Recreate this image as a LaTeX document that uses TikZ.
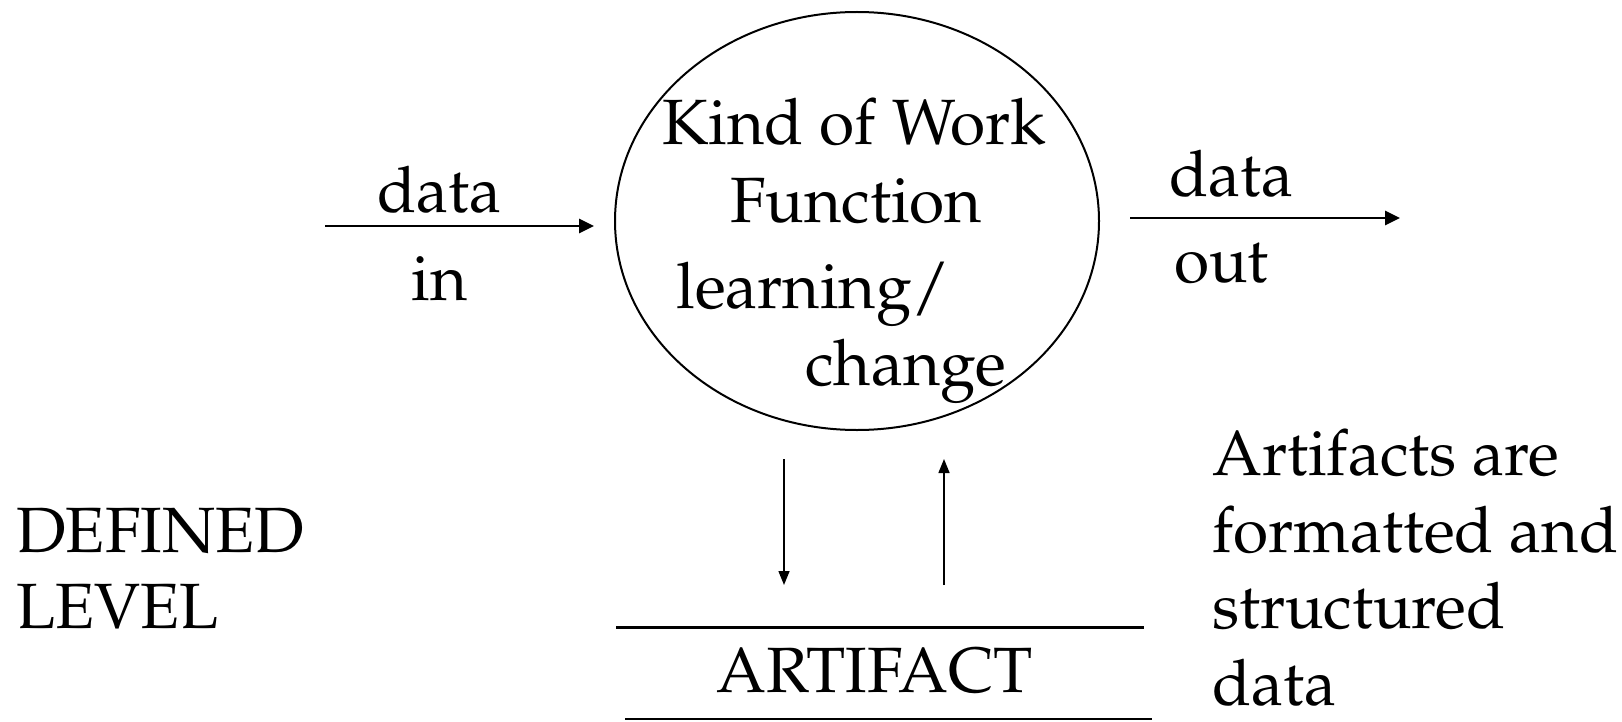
\documentclass[tikz,border=0pt]{standalone}
\usepackage[T1]{fontenc}
\renewcommand{\rmdefault}{ppl}
\usetikzlibrary{arrows.meta,shapes.geometric}
\begin{document}
\begin{tikzpicture}[x=0.5pt,y=-0.5pt,
  lbl/.style={anchor=base west,inner sep=0pt,font=\fontsize{32}{38}\selectfont},
  flow/.style={line width=1.35pt,-{Triangle[length=7.5pt,width=7pt]}},
  vflow/.style={line width=0.75pt,-{Triangle[length=7pt,width=5.5pt]}}]
\useasboundingbox (0,0) rectangle (1622,722);
% process
\node (proc) [draw,line width=1pt,ellipse,minimum width=242pt,minimum height=209pt,inner sep=0pt] at (857,221) {};
\node (t1) [lbl] at (662,145) {Kind of Work};
\node (t2) [lbl] at (730,222) {Function};
\node (t3) [lbl] at (676,308) {learning/};
\node (t4) [lbl] at (805,385) {change};
% data in
\coordinate (inA) at (325,226);
\coordinate (inB) at (594,226);
\draw[flow] (inA) -- (inB);
\node (din1) [lbl] at (377,213) {data};
\node (din2) [lbl] at (411,300) {in};
% data out
\coordinate (outA) at (1130,218);
\coordinate (outB) at (1400,218);
\draw[flow] (outA) -- (outB);
\node (dout1) [lbl] at (1169,196) {data};
\node (dout2) [lbl] at (1174,282) {out};
% store
\coordinate (s1a) at (616,627);
\coordinate (s1b) at (1144,627);
\coordinate (s2a) at (625,719);
\coordinate (s2b) at (1152,719);
\draw[line width=1.5pt] (s1a) -- (s1b);
\draw[line width=1pt] (s2a) -- (s2b);
\node (art) [lbl] at (716,692) {ARTIFACT};
% vertical arrows
\coordinate (dA) at (784,459);
\coordinate (dB) at (784,585);
\coordinate (uA) at (944,585);
\coordinate (uB) at (944,459);
\draw[vflow] (dA) -- (dB);
\draw[vflow] (uA) -- (uB);
% left label
\node (lv1) [lbl] at (16,552) {DEFINED};
\node (lv2) [lbl] at (16,628) {LEVEL};
% right note
\node (n1) [lbl] at (1212,475) {Artifacts are};
\node (n2) [lbl] at (1212,552) {formatted and};
\node (n3) [lbl] at (1212,628) {structured};
\node (n4) [lbl] at (1212,705) {data};
\end{tikzpicture}
\end{document}
